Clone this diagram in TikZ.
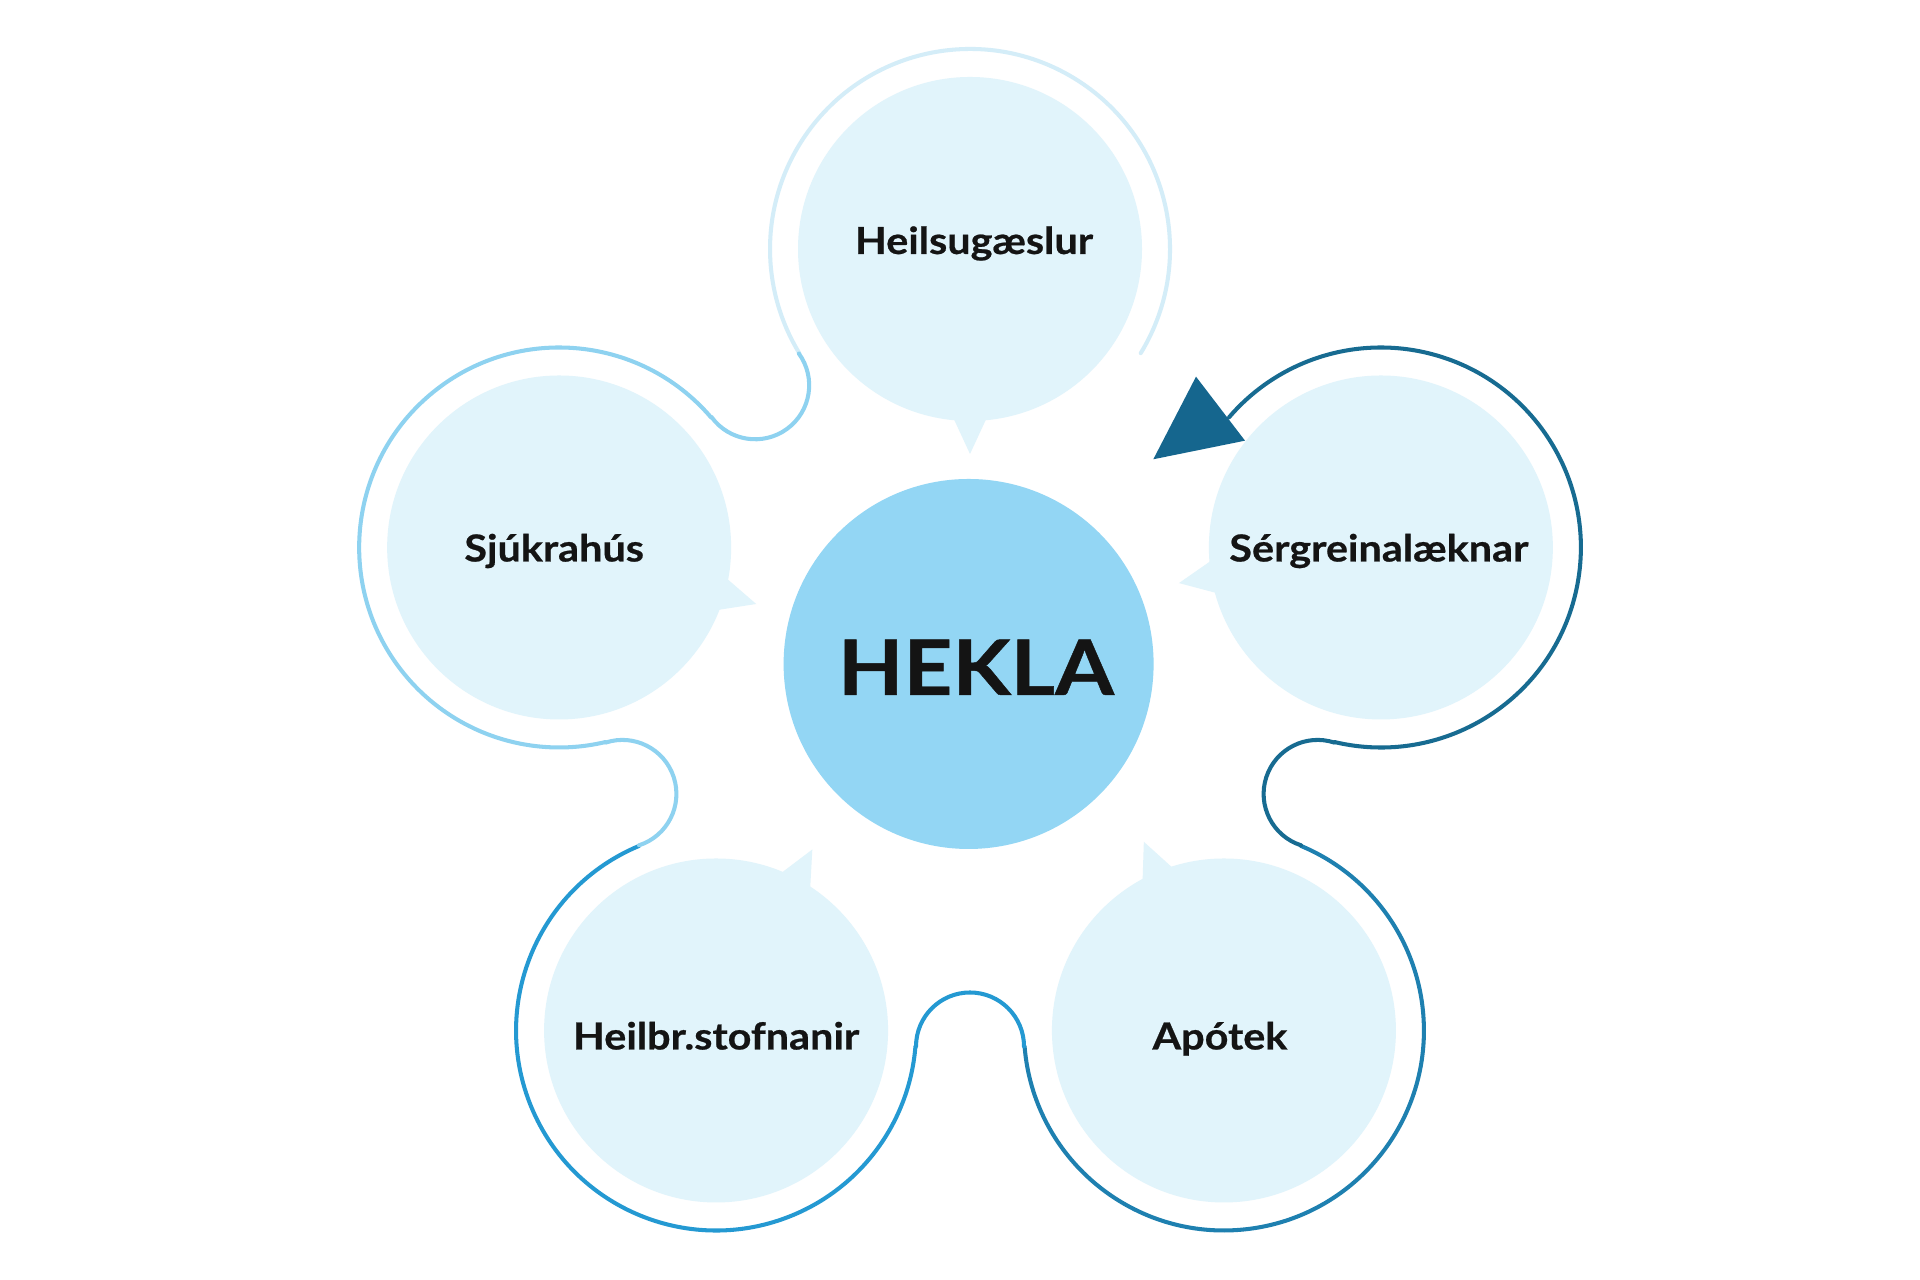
\documentclass[tikz,border=0pt]{standalone}
\usepackage{fontspec}
\setmainfont{Lato}
\newfontfamily\heavyfont{Lato Bold}[FakeStretch=1.11, FakeBold=0.6]
\usetikzlibrary{calc}

\definecolor{petalfill}{HTML}{E1F4FB}
\definecolor{heklafill}{HTML}{93D6F4}
\definecolor{rimA}{HTML}{D4EDF8}
\definecolor{rimB}{HTML}{8ED2F0}
\definecolor{rimC}{HTML}{2499D2}
\definecolor{rimD}{HTML}{1E80B0}
\definecolor{rimE}{HTML}{176B91}
\definecolor{headfill}{HTML}{15668E}

\tikzset{
    petal/.style={fill=petalfill},
    rim/.style={line width=1.15pt, line cap=round},
    lbl/.style={font=\heavyfont\fontsize{10.6}{12}\selectfont, text=black!92, anchor=base, inner sep=0pt},
}

\begin{document}
\begin{tikzpicture}
    \useasboundingbox (0,0) rectangle (19.2,12.8);
    \fill[white] (0,0) rectangle (19.2,12.8);
    \coordinate (O) at (9.70,5.99);
    \foreach \nm/\a in {top/90, sjuk/162, heil/234, apo/306, serg/18} {
        \coordinate (\nm) at ($(O)+(\a:4.32)$);
    }
    % outer rim, one colour per petal
    \foreach \nm/\a/\c in {top/90/rimA, sjuk/162/rimB, heil/234/rimC, apo/306/rimD, serg/18/rimE} {
        \draw[rim, \c] ($(\nm)+(\a-121.4:2)$) arc[start angle=\a-121.4, end angle=\a+121.4, radius=2];
    }
    % necks between the petals
    \foreach \a/\c in {90/rimB, 162/rimB, 234/rimC, 306/rimE} {
        \draw[rim, \c] ($(O)+(\a+36:3.655)+(\a-54:0.54)$) arc[start angle=\a-54, end angle=\a-234, radius=0.54];
    }
    % arrow head at the end of the rim
    \coordinate (hA) at (11.96,9.033);
    \coordinate (hB) at (11.533,8.207);
    \coordinate (hC) at (12.45,8.393);
    \fill[headfill] (hA) -- (hB) -- (hC) -- cycle;
    % petals with their pointers
    \foreach \nm/\t in {top/270, sjuk/344, heil/62, apo/113, serg/190} {
        \fill[petal] (\nm) circle (1.72);
        \fill[petal] ($(\nm)+(\t-6:1.68)$) -- ($(\nm)+(\t:2.05)$) -- ($(\nm)+(\t+6:1.68)$) -- cycle;
    }
    \node[circle, fill=heklafill, minimum size=3.7cm, inner sep=0pt] (hekla) at (9.686,6.16) {};
    \node[font=\heavyfont\fontsize{21.8}{24}\selectfont, text=black!92, anchor=base, inner sep=0pt] (hekla-txt) at (9.76,5.85) {HEKLA};
    \foreach \nm/\dx/\dy/\txt in {top/0.04/-0.05/Heilsugæslur, sjuk/-0.05/-0.14/Sjúkrahús, serg/-0.02/-0.14/Sérgreinalæknar, heil/0/-0.19/Heilbr.stofnanir, apo/-0.04/-0.19/Apótek} {
        \node[lbl] (l-\nm) at ($(\nm)+(\dx,\dy)$) {\txt};
    }
\end{tikzpicture}
\end{document}
